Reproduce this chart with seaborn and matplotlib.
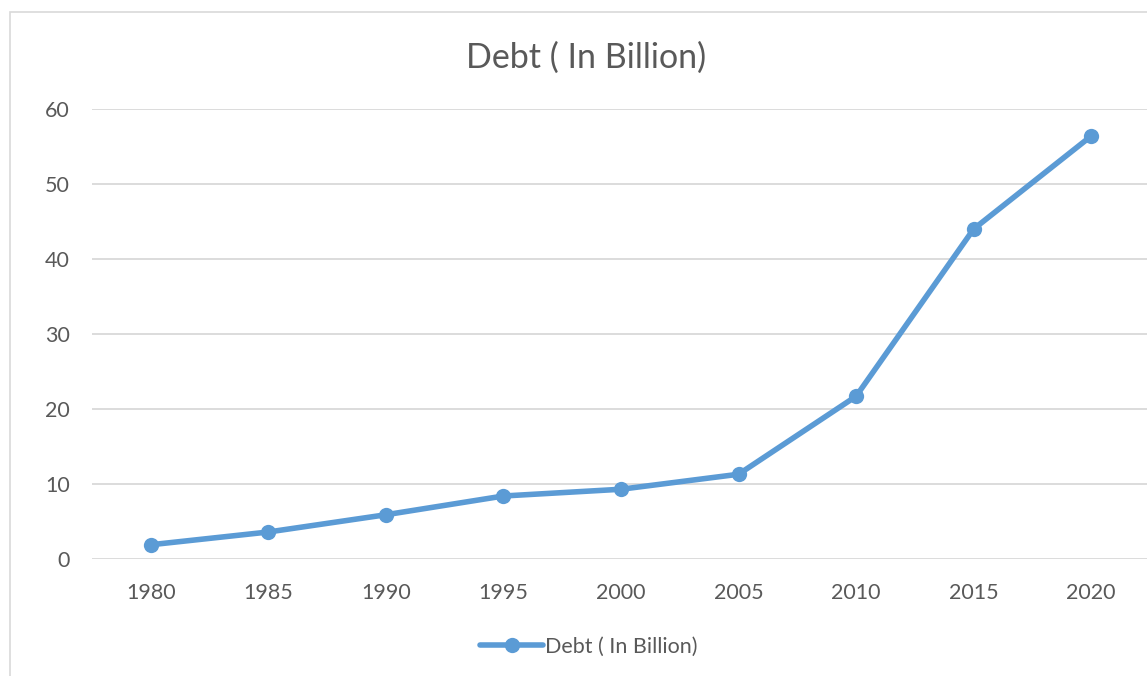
import matplotlib
matplotlib.use("Agg")
import matplotlib.pyplot as plt
import seaborn as sns
import pandas as pd
from matplotlib.patches import Rectangle
from matplotlib.lines import Line2D

years = ["1980", "1985", "1990", "1995", "2000", "2005", "2010", "2015", "2020"]
debt = [1.9, 3.6, 5.9, 8.4, 9.3, 11.3, 21.7, 44.0, 56.4]
series_name = "Debt ( In Billion)"
y_ticks = [0, 10, 20, 30, 40, 50, 60]

sns.set_theme(style="white")
plt.rcParams["font.family"] = ["Lato", "DejaVu Sans"]

W, H = 1147, 676
fig = plt.figure(figsize=(W / 100, H / 100), dpi=100)
fig.patch.set_facecolor("white")

# chart border (partially cropped)
fig.add_artist(Rectangle((10 / W, -0.1), 1.2, 1 - 12 / H + 0.1, transform=fig.transFigure,
                         fill=False, edgecolor="#D9D9D9", linewidth=1.2))

ax = fig.add_axes([92 / W, 1 - 559 / H, (1150 - 92) / W, (559 - 109) / H])
ax.set_facecolor("none")

df = pd.DataFrame({"Year": years, "Debt": debt})
blue = "#5B9BD5"
sns.lineplot(data=df, x="Year", y="Debt", ax=ax, color=blue, linewidth=4.0,
             marker="o", markersize=11, markeredgewidth=0, sort=False, legend=False,
             zorder=3)

ax.set_xlim(-0.5, len(years) - 0.5)
ax.set_ylim(0, 60)
ax.set_yticks(y_ticks)
ax.set_yticklabels([str(t) for t in y_ticks])
ax.yaxis.grid(True, color="#D9D9D9", linewidth=1.3)
ax.xaxis.grid(False)
for s in ax.spines.values():
    s.set_visible(False)
ax.tick_params(axis="both", length=0, labelsize=15.5, labelcolor="#595959")
ax.tick_params(axis="y", pad=16)
ax.tick_params(axis="x", pad=17)
ax.set_xlabel("")
ax.set_ylabel("")

fig.text(586 / W, 1 - 58 / H, series_name, ha="center", va="center",
         fontsize=24.5, color="#595959")

handle = Line2D([0], [0], color=blue, linewidth=4.0, marker="o", markersize=11,
                markeredgewidth=0)
fig.legend([handle], [series_name], loc="center", bbox_to_anchor=(589 / W, 1 - 647 / H),
           frameon=False, fontsize=15.5, labelcolor="#595959", handlelength=2.9,
           handletextpad=0.1)

fig.savefig("out.png", dpi=100, facecolor="white")
